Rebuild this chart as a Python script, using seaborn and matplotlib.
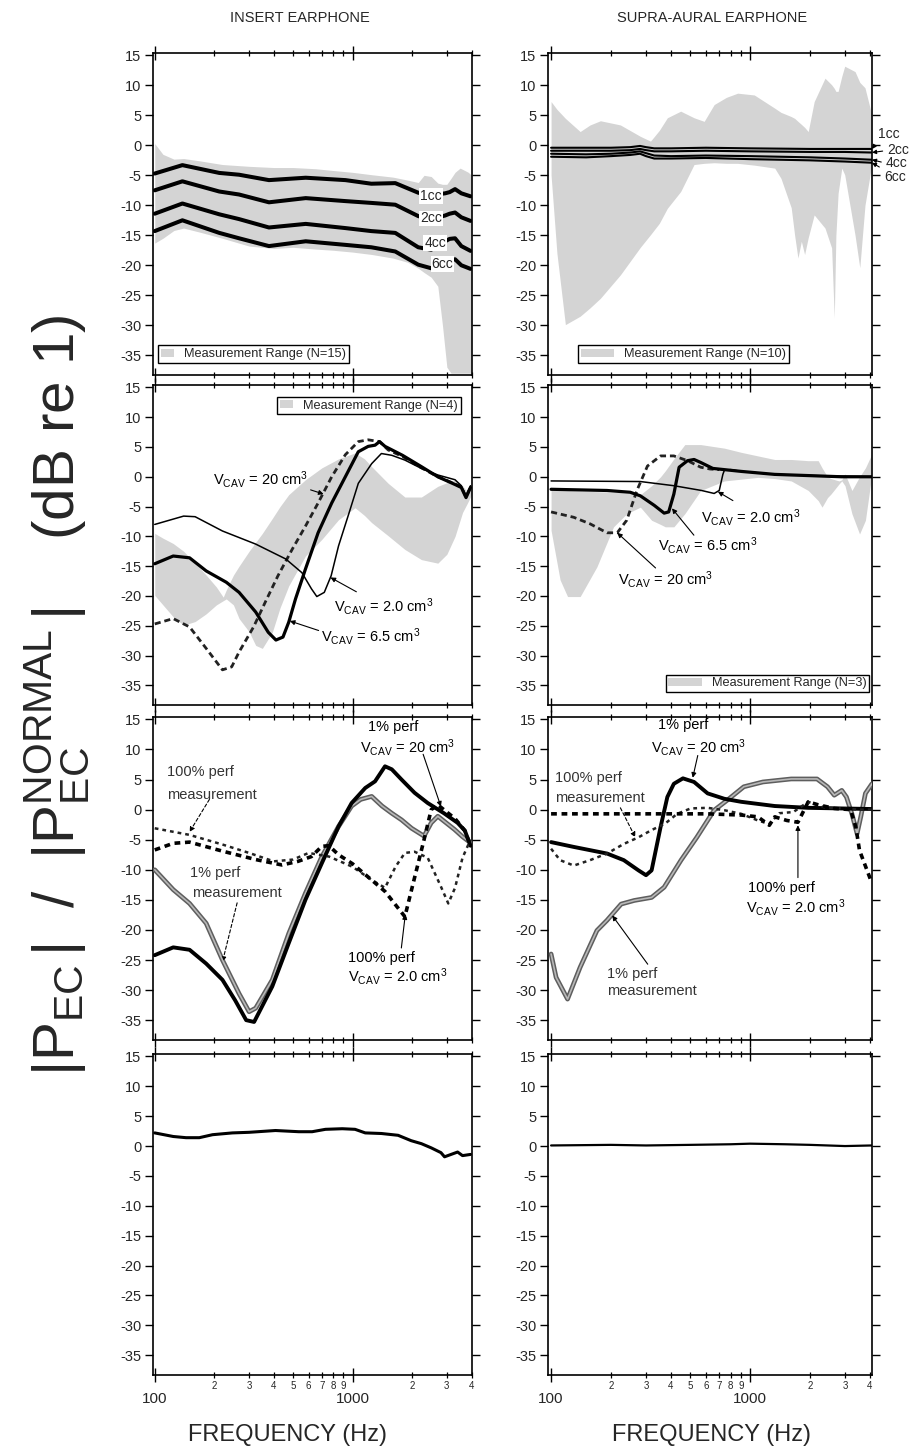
import matplotlib
matplotlib.use("Agg")
import matplotlib.pyplot as plt
from matplotlib import font_manager
from matplotlib.patches import Patch
from matplotlib.ticker import FixedLocator, FixedFormatter, NullFormatter
import seaborn as sns

# ---------------------------------------------------------------- data
# Row 1, insert earphone: coupler-volume curves
ins_cc_f = [100, 138, 212, 267, 378, 580, 922, 1245, 1645, 2150, 2500, 2940, 3100, 3300, 3550, 3950]
ins_1cc = [-4.7, -3.3, -4.6, -4.9, -5.8, -5.4, -5.8, -6.4, -6.3, -7.9, -8.3, -8.0, -7.8, -7.3, -8.0, -8.5]
ins_2cc = [-7.5, -6.0, -7.7, -8.2, -9.5, -8.8, -9.3, -9.6, -9.9, -11.8, -12.3, -11.7, -11.4, -11.2, -12.0, -12.6]
ins_4cc = [-11.4, -9.7, -11.5, -12.3, -13.7, -13.1, -13.8, -14.3, -14.6, -17.0, -17.4, -16.0, -15.6, -15.5, -16.8, -17.6]
ins_6cc = [-14.3, -12.5, -14.6, -15.5, -16.8, -16.0, -16.6, -17.0, -17.7, -19.9, -20.5, -19.5, -19.2, -19.0, -20.0, -20.6]
ins_range15_f = [100, 110, 125, 140, 170, 220, 300, 400, 500, 650, 800, 1000, 1250, 1600, 1900,
                 2150, 2300, 2500, 2700, 2850, 3000, 3150, 3300, 3500, 3700, 3850, 4000]
ins_range15_hi = [0.3, -1.5, -2.3, -2.2, -2.6, -3.2, -3.5, -3.7, -3.7, -3.9, -4.2, -4.5, -4.9, -5.3, -5.8,
                  -6.2, -5.0, -5.2, -6.3, -6.5, -6.5, -5.5, -4.5, -3.8, -4.2, -4.5, -5.0]
ins_range15_lo = [-16.3, -15.5, -14.2, -13.8, -14.5, -15.5, -16.8, -17.2, -17.0, -17.3, -17.5, -17.8, -18.2, -18.8, -19.5,
                  -20.5, -21.2, -22.0, -23.5, -30.0, -37.0, -38.0, -38.0, -38.0, -38.0, -38.0, -38.0]

# Row 1, supra-aural earphone
sup_cc_f = [100, 150, 200, 250, 280, 300, 330, 400, 600, 1000, 2000, 3000, 4100]
sup_1cc = [-0.4, -0.4, -0.4, -0.3, -0.1, -0.3, -0.5, -0.5, -0.4, -0.5, -0.6, -0.6, -0.6]
sup_2cc = [-0.9, -0.9, -0.9, -0.8, -0.6, -0.8, -1.0, -1.0, -0.9, -1.0, -1.1, -1.1, -1.2]
sup_4cc = [-1.4, -1.5, -1.4, -1.2, -1.0, -1.3, -1.7, -1.8, -1.7, -1.8, -2.0, -2.2, -2.4]
sup_6cc = [-1.9, -2.0, -1.8, -1.6, -1.4, -1.8, -2.2, -2.2, -2.1, -2.3, -2.5, -2.7, -2.9]
sup_range10_f = [100, 107, 118, 140, 157, 177, 223, 281, 316, 350, 384, 448, 523, 588, 660, 760, 866, 1050, 1330, 1430,
                 1610, 1675, 1740, 1810, 1880, 1960, 2100, 2380, 2570, 2650, 2700, 2770, 2890, 2990, 3370, 3560, 3780, 4010, 4100]
sup_range10_hi = [7.3, 6.0, 4.5, 2.3, 3.4, 4.1, 3.4, 1.5, 0.7, 2.5, 4.6, 5.7, 4.6, 4.0, 6.8, 8.0, 8.7, 8.4, 6.2, 5.5,
                  4.8, 4.5, 4.0, 3.5, 3.0, 2.3, 7.3, 11.2, 10.1, 9.5, 9.0, 9.0, 11.5, 13.2, 12.3, 10.5, 9.6, 6.2, 5.0]
sup_range10_lo = [-5.0, -18.0, -29.9, -28.5, -27.1, -25.5, -21.6, -17.0, -14.9, -13.0, -10.5, -7.7, -3.2, -3.0, -2.9, -3.0, -3.0, -3.3, -3.8, -5.5,
                  -10.4, -15.0, -18.8, -16.0, -18.2, -15.4, -11.6, -13.8, -17.1, -28.8, -15.0, -8.0, -3.8, -4.9, -15.0, -20.4, -10.0, -4.9, -3.0]

# Row 2, insert earphone: cavity volumes
ins_v65_f = [100, 124, 150, 182, 230, 267, 324, 375, 410, 445, 476, 515, 578, 670, 785, 920, 1070, 1200, 1300, 1370,
             1460, 1790, 2230, 2700, 3300, 3550, 3750, 3950]
ins_v65_db = [-14.6, -13.3, -13.6, -15.8, -17.7, -19.4, -22.7, -26.1, -27.4, -26.9, -24.4, -20.5, -15.5, -9.4, -4.4, 0.0, 4.2, 5.1, 5.3, 5.9,
              5.1, 3.6, 1.7, 0.0, -1.3, -1.8, -3.5, -1.8]
ins_v20_f = [100, 140, 160, 220, 324, 460, 555, 620, 660, 720, 780, 850, 960, 1070, 1250, 1400, 1580, 1840, 2230, 2700,
             3300, 3550, 3750, 3950]
ins_v20_db = [-8.0, -6.6, -6.7, -9.1, -11.3, -13.8, -16.1, -18.8, -20.1, -19.4, -16.6, -11.6, -6.1, -1.1, 2.2, 3.9, 3.6, 2.8, 1.4, 0.3,
              -0.5, -1.5, -3.3, -1.5]
ins_v200_f = [100, 124, 150, 182, 220, 245, 267, 316, 365, 420, 495, 578, 670, 785, 920, 1070, 1200, 1370, 1515, 1790,
              2230, 2700, 3300, 3550, 3750, 3950]
ins_v200_db = [-24.7, -23.8, -25.2, -28.8, -32.4, -31.9, -29.4, -25.2, -20.8, -16.6, -12.2, -8.3, -4.4, 0.0, 3.7, 5.9, 6.2, 5.9, 4.5, 3.4,
               1.5, 0.0, -1.2, -1.7, -3.4, -1.7]
ins_range4_f = [100, 110, 124, 140, 160, 182, 205, 222, 230, 250, 267, 300, 324, 350, 393, 430, 476, 578, 700, 850, 1030,
                1150, 1250, 1515, 1840, 2230, 2700, 3000, 3300, 3600, 3800, 4000]
ins_range4_hi = [-9.5, -10.3, -11.2, -12.5, -14.5, -16.5, -18.5, -20.2, -19.0, -16.5, -15.0, -12.5, -11.0, -9.5, -7.0, -5.0, -3.0, -0.5, 1.5, 3.0, 4.0,
                 3.0, 1.7, -1.1, -3.4, -3.4, -1.6, -1.0, -0.5, -1.5, -2.5, -1.5]
ins_range4_lo = [-19.9, -21.5, -23.5, -24.9, -24.3, -23.0, -21.5, -20.8, -20.5, -21.5, -23.8, -26.0, -28.3, -28.8, -26.1, -22.0, -18.3, -13.3, -10.5, -7.2, -5.2,
                 -6.5, -7.7, -9.9, -12.2, -13.9, -14.5, -13.0, -10.0, -6.0, -4.5, -3.0]

# Row 2, supra-aural earphone: cavity volumes
sup_v20_f = [100, 281, 414, 570, 660, 700, 730, 743, 800, 903, 1330, 2000, 4100]
sup_v20_db = [-0.7, -0.8, -1.5, -2.3, -2.8, -2.3, 0.4, 1.1, 1.2, 0.9, 0.4, 0.2, 0.0]
sup_v65_f = [100, 191, 250, 281, 330, 370, 390, 414, 440, 485, 523, 565, 650, 903, 1330, 1960, 2890, 4100]
sup_v65_db = [-2.1, -2.3, -2.6, -3.2, -4.8, -6.1, -5.9, -2.9, 1.6, 2.7, 2.9, 2.4, 1.4, 0.9, 0.4, 0.2, 0.0, 0.0]
sup_v200_f = [100, 130, 157, 191, 215, 240, 270, 305, 355, 414, 485, 565, 630, 700]
sup_v200_db = [-5.9, -6.8, -7.9, -9.4, -9.4, -7.3, -2.3, 1.8, 3.5, 3.5, 2.7, 1.6, 1.3, 1.2]
sup_range3_f = [100, 111, 121, 140, 170, 206, 240, 281, 320, 355, 375, 414, 470, 565, 743, 903, 1095, 1330, 1610, 1960,
                2200, 2300, 2450, 2550, 2800, 2890, 3000, 3250, 3550, 3800, 4050, 4100]
sup_range3_hi = [-2.0, -2.2, -2.3, -2.4, -2.5, -2.6, -2.7, -3.0, -1.5, 0.0, 1.0, 3.0, 5.4, 5.4, 4.8, 4.1, 3.5, 2.9, 2.9, 2.7,
                 2.7, 1.5, 0.0, -0.3, -0.7, -0.5, 0.5, -2.3, 0.0, 1.5, 3.5, 5.0]
sup_range3_lo = [-9.0, -17.3, -20.1, -20.1, -15.1, -8.4, -6.2, -5.1, -7.3, -8.0, -8.4, -8.4, -6.2, -2.3, -0.7, -0.4, -0.1, -0.3, -0.7, -2.3,
                 -4.0, -5.1, -3.5, -2.9, -1.2, -0.7, -1.5, -6.2, -9.6, -7.3, -0.7, 2.0]

# Row 3, insert earphone: perforations
ins_p1_model_f = [100, 124, 150, 182, 220, 255, 290, 318, 393, 476, 578, 700, 850, 990, 1160, 1300, 1460, 1580, 1770, 2060,
                  2400, 2900, 3400, 3700, 3950]
ins_p1_model_db = [-24.2, -22.9, -23.3, -25.6, -28.3, -31.7, -35.0, -35.3, -29.4, -22.2, -15.0, -8.9, -2.8, 1.1, 3.6, 4.7, 7.2, 6.7, 5.0, 2.8,
                   1.1, -0.6, -2.2, -3.5, -6.0]
ins_p1_meas_f = [100, 124, 150, 182, 220, 267, 300, 324, 393, 476, 578, 700, 850, 990, 1100, 1250, 1410, 1580, 1770, 1990,
                 2300, 2500, 2700, 3280, 3600, 3950]
ins_p1_meas_db = [-10.0, -13.3, -15.6, -18.9, -25.0, -30.6, -33.6, -33.0, -28.3, -20.6, -13.9, -7.8, -2.8, 0.6, 1.7, 2.2, 0.6, -0.6, -1.7, -3.1,
                  -4.4, -2.2, -1.1, -3.3, -4.5, -5.5]
ins_p100_model_f = [100, 124, 150, 220, 324, 440, 530, 620, 700, 760, 850, 1000, 1250, 1460, 1840, 2000, 2300, 2500, 2700, 3300,
                    3700, 3950]
ins_p100_model_db = [-6.7, -5.6, -5.4, -6.9, -8.3, -9.2, -8.6, -7.8, -6.1, -6.0, -7.5, -9.0, -11.7, -13.6, -17.8, -13.0, -5.0, 0.0, 0.8, -1.5,
                     -3.5, -6.0]
ins_p100_meas_f = [100, 150, 220, 300, 400, 500, 600, 760, 1000, 1250, 1460, 1650, 1840, 2060, 2400, 2800, 3050, 3300, 3600, 3950]
ins_p100_meas_db = [-3.1, -4.2, -5.8, -7.2, -8.6, -8.3, -7.2, -7.8, -9.5, -11.7, -13.0, -9.5, -7.2, -7.0, -8.0, -12.8, -15.6, -13.0, -8.0, -5.0]

# Row 3, supra-aural earphone: perforations
sup_p1_model_f = [100, 130, 191, 232, 275, 300, 320, 355, 384, 414, 460, 523, 612, 743, 903, 1330, 1960, 4100]
sup_p1_model_db = [-5.4, -6.2, -7.3, -8.4, -10.1, -10.9, -10.1, -2.9, 2.1, 4.3, 5.2, 4.6, 2.7, 1.8, 1.3, 0.6, 0.3, 0.1]
sup_p1_meas_f = [100, 106, 121, 140, 170, 191, 225, 262, 320, 370, 450, 540, 660, 770, 930, 1160, 1610, 2170, 2450, 2650,
                 2890, 3050, 3250, 3450, 3600, 3800, 4100]
sup_p1_meas_db = [-24.0, -27.9, -31.5, -26.2, -20.1, -18.4, -15.7, -15.1, -14.6, -12.9, -8.4, -4.6, -0.1, 1.6, 3.8, 4.6, 5.1, 5.1, 3.8, 2.4,
                  3.2, 2.1, -0.7, -4.0, -1.2, 2.7, 4.3]
sup_p100_model_f = [100, 612, 903, 1095, 1250, 1330, 1530, 1740, 1960, 2200, 2650, 3200, 3400, 3550, 4050]
sup_p100_model_db = [-0.7, -0.7, -0.9, -1.2, -2.6, -1.2, -1.8, -2.1, 1.3, 0.8, 0.2, 0.0, -2.9, -6.8, -11.8]
sup_p100_meas_f = [100, 111, 130, 157, 191, 232, 275, 320, 375, 430, 503, 612, 743, 903, 1095, 1250, 1400, 1650, 1960, 2400,
                   2890, 3550, 4100]
sup_p100_meas_db = [-6.5, -8.4, -9.3, -8.4, -7.3, -5.7, -4.6, -3.4, -2.3, -0.7, 0.2, 0.3, -0.1, -0.7, -1.8, -2.4, -0.6, -0.4, 1.3, 0.3,
                    0.2, 0.0, 0.0]

# Row 4: normal ear, test-retest
ins_norm_f = [100, 124, 144, 168, 196, 247, 300, 408, 535, 625, 730, 888, 1030, 1160, 1400, 1700, 1980, 2230, 2500, 2800,
              2920, 3150, 3400, 3600, 3950]
ins_norm_db = [2.2, 1.6, 1.4, 1.4, 1.9, 2.2, 2.3, 2.6, 2.4, 2.4, 2.8, 2.9, 2.8, 2.2, 2.1, 1.8, 0.9, 0.4, -0.3, -1.1,
               -1.8, -1.4, -1.0, -1.6, -1.4]
sup_norm_f = [100, 200, 300, 500, 800, 1000, 1500, 2000, 3000, 4100]
sup_norm_db = [0.1, 0.2, 0.1, 0.2, 0.3, 0.4, 0.3, 0.2, 0.0, 0.1]

# Axis ticks
y_ticks = [15, 10, 5, 0, -5, -10, -15, -20, -25, -30, -35]
x_major = [100, 1000]
x_major_labels = ["100", "1000"]
x_minor = [200, 300, 400, 500, 600, 700, 800, 900, 2000, 3000, 4000]
x_minor_labels = ["2", "3", "4", "5", "6", "7", "8", "9", "2", "3", "4"]
column_titles = ["INSERT EARPHONE", "SUPRA-AURAL EARPHONE"]

# ---------------------------------------------------------------- style
sns.set_style("ticks")
installed = {f.name for f in font_manager.fontManager.ttflist}
base = "Liberation Sans" if "Liberation Sans" in installed else "DejaVu Sans"
plt.rcParams["font.family"] = [base, "DejaVu Sans"]
plt.rcParams["axes.unicode_minus"] = False
plt.rcParams["mathtext.fontset"] = "custom"
plt.rcParams["mathtext.rm"] = base
plt.rcParams["mathtext.it"] = base + ":italic"
plt.rcParams["mathtext.bf"] = base + ":bold"
plt.rcParams["mathtext.default"] = "regular"

FILL = "#d4d4d4"
W, H = 911, 1454
fig = plt.figure(figsize=(W / 100, H / 100), dpi=100)
fig.patch.set_facecolor("white")

col_px = [(153, 472), (548, 872)]
row_px = [(53, 375), (385, 705), (717, 1040), (1054, 1375)]
xlims = [(98, 4020), (96.5, 4100)]
axes = [[fig.add_axes([x0 / W, 1 - y1 / H, (x1 - x0) / W, (y1 - y0) / H]) for (x0, x1) in col_px]
        for (y0, y1) in row_px]


def line(ax, f, db, **kw):
    sns.lineplot(x=f, y=db, ax=ax, estimator=None, sort=False, legend=False, **kw)


def gray_meas(ax, f, db):
    line(ax, f, db, color="#5e5e5e", linewidth=3.4, zorder=3)
    line(ax, f, db, color="#b8b8b8", linewidth=1.2, zorder=3.1)


def arrow(ax, start, tip, dashed=False):
    ax.annotate("", xy=tip, xytext=start, xycoords="data", textcoords="data",
                annotation_clip=False,
                arrowprops=dict(arrowstyle="-|>", color="black", lw=0.8, mutation_scale=7,
                                shrinkA=0, shrinkB=0, linestyle=(0, (3, 2)) if dashed else "-"))


def label(ax, x, y, s, color="black", size=10.5):
    ax.text(x, y, s, ha="left", va="center", fontsize=size, color=color, zorder=6)


def range_legend(ax, text, loc, anchor, hl):
    h = Patch(facecolor=FILL, edgecolor="none", label=text)
    leg = ax.legend(handles=[h], loc=loc, bbox_to_anchor=anchor, frameon=True, fancybox=False,
                    edgecolor="black", fontsize=9.2, handlelength=hl, handleheight=0.55,
                    borderpad=0.22, handletextpad=0.8, borderaxespad=0)
    leg.get_frame().set_linewidth(1.0)
    leg.get_frame().set_alpha(1)


# ---------------------------------------------------------------- row 1
ax = axes[0][0]
ax.fill_between(ins_range15_f, ins_range15_lo, ins_range15_hi, color=FILL, linewidth=0, zorder=1)
for vals in (ins_1cc, ins_2cc, ins_4cc, ins_6cc):
    line(ax, ins_cc_f, vals, color="black", linewidth=2.9, zorder=3)
for s, fx, fy in (("1cc", 2492, -8.4), ("2cc", 2492, -12.2), ("4cc", 2618, -16.3), ("6cc", 2843, -19.8)):
    ax.text(fx, fy, s, ha="center", va="center", fontsize=10, zorder=5,
            bbox=dict(facecolor="white", edgecolor="none", pad=0.6))
range_legend(ax, "Measurement Range (N=15)", "lower left", (0.016, 0.037), 1.0)

ax = axes[0][1]
ax.fill_between(sup_range10_f, sup_range10_lo, sup_range10_hi, color=FILL, linewidth=0, zorder=1)
for vals in (sup_1cc, sup_2cc, sup_4cc, sup_6cc):
    line(ax, sup_cc_f, vals, color="black", linewidth=1.5, zorder=3)
for s, vals, off, rel in (("1cc", sup_1cc, (4.5, 11), (0, 0)), ("2cc", sup_2cc, (11, 1.5), (0, 0.5)),
                          ("4cc", sup_4cc, (10, -2.5), (0, 0.5)), ("6cc", sup_6cc, (8.5, -10), (0, 1))):
    ax.annotate(s, xy=(4100, vals[-1]), xytext=off, textcoords="offset points", ha="left", va="center",
                fontsize=10, annotation_clip=False,
                arrowprops=dict(arrowstyle="-|>", color="black", lw=0.8, mutation_scale=6,
                                shrinkA=1, shrinkB=0, relpos=rel))
range_legend(ax, "Measurement Range (N=10)", "lower left", (0.093, 0.037), 2.6)

# ---------------------------------------------------------------- row 2
ax = axes[1][0]
ax.fill_between(ins_range4_f, ins_range4_lo, ins_range4_hi, color=FILL, linewidth=0, zorder=1)
line(ax, ins_v200_f, ins_v200_db, color="#222222", linewidth=2.0, linestyle=(0, (2.2, 1.4)), zorder=3)
line(ax, ins_v20_f, ins_v20_db, color="black", linewidth=1.1, zorder=3)
line(ax, ins_v65_f, ins_v65_db, color="black", linewidth=2.3, zorder=3)
label(ax, 196, -0.5, r"V$_{CAV}$ = 20 cm$^{3}$")
arrow(ax, (614, -2.2), (714, -2.9))
label(ax, 802, -21.7, r"V$_{CAV}$ = 2.0 cm$^{3}$")
arrow(ax, (1046, -19.3), (774, -16.9))
label(ax, 690, -26.8, r"V$_{CAV}$ = 6.5 cm$^{3}$")
arrow(ax, (674, -25.8), (482, -24.2))
range_legend(ax, "Measurement Range (N=4)", "upper right", (0.964, 0.963), 1.0)

ax = axes[1][1]
ax.fill_between(sup_range3_f, sup_range3_lo, sup_range3_hi, color=FILL, linewidth=0, zorder=1)
line(ax, sup_v200_f, sup_v200_db, color="#222222", linewidth=2.0, linestyle=(0, (2.2, 1.4)), zorder=3)
line(ax, sup_v20_f, sup_v20_db, color="black", linewidth=1.1, zorder=3)
line(ax, sup_v65_f, sup_v65_db, color="black", linewidth=2.3, zorder=3)
label(ax, 566, -6.8, r"V$_{CAV}$ = 2.0 cm$^{3}$")
arrow(ax, (820, -4.0), (689, -2.5))
label(ax, 346, -11.5, r"V$_{CAV}$ = 6.5 cm$^{3}$")
arrow(ax, (522, -9.8), (405, -5.3))
label(ax, 218, -17.3, r"V$_{CAV}$ = 20 cm$^{3}$")
arrow(ax, (335, -15.3), (215, -9.4))
range_legend(ax, "Measurement Range (N=3)", "lower right", (0.992, 0.04), 2.6)

# ---------------------------------------------------------------- row 3
ax = axes[2][0]
gray_meas(ax, ins_p1_meas_f, ins_p1_meas_db)
line(ax, ins_p1_model_f, ins_p1_model_db, color="black", linewidth=2.8, zorder=4)
line(ax, ins_p100_meas_f, ins_p100_meas_db, color="#222222", linewidth=1.8, linestyle=(0, (1.5, 1.6)), zorder=4)
line(ax, ins_p100_model_f, ins_p100_model_db, color="black", linewidth=2.6, linestyle=(0, (1.6, 1.3)), zorder=4)
label(ax, 1204, 13.7, "1% perf")
label(ax, 1097, 10.3, r"V$_{CAV}$ = 20 cm$^{3}$")
arrow(ax, (2276, 9.2), (2800, 0.5))
label(ax, 115, 6.3, "100% perf", color="#333333")
label(ax, 115, 2.5, "measurement", color="#333333")
arrow(ax, (189, 1.7), (150, -3.7), dashed=True)
label(ax, 150, -10.5, "1% perf", color="#333333")
label(ax, 155, -13.8, "measurement", color="#333333")
arrow(ax, (261, -15.5), (220, -25.3), dashed=True)
label(ax, 954, -24.7, "100% perf")
label(ax, 954, -27.8, r"V$_{CAV}$ = 2.0 cm$^{3}$")
arrow(ax, (1766, -23.0), (1850, -17.4))

ax = axes[2][1]
gray_meas(ax, sup_p1_meas_f, sup_p1_meas_db)
line(ax, sup_p1_model_f, sup_p1_model_db, color="black", linewidth=2.8, zorder=4)
line(ax, sup_p100_meas_f, sup_p100_meas_db, color="#222222", linewidth=1.8, linestyle=(0, (1.5, 1.6)), zorder=4)
line(ax, sup_p100_model_f, sup_p100_model_db, color="black", linewidth=2.6, linestyle=(0, (1.6, 1.3)), zorder=4)
label(ax, 343, 14.0, "1% perf")
label(ax, 316, 10.3, r"V$_{CAV}$ = 20 cm$^{3}$")
arrow(ax, (546, 9.0), (515, 5.3))
label(ax, 105, 5.2, "100% perf", color="#333333")
label(ax, 105, 2.0, "measurement", color="#333333")
arrow(ax, (223, 0.3), (265, -4.6), dashed=True)
label(ax, 978, -13.0, "100% perf")
label(ax, 955, -16.3, r"V$_{CAV}$ = 2.0 cm$^{3}$")
arrow(ax, (1740, -11.3), (1740, -2.6))
label(ax, 192, -27.3, "1% perf", color="#333333")
label(ax, 192, -30.2, "measurement", color="#333333")
arrow(ax, (306, -25.7), (203, -17.6))

# ---------------------------------------------------------------- row 4
line(axes[3][0], ins_norm_f, ins_norm_db, color="black", linewidth=2.2, zorder=3)
line(axes[3][1], sup_norm_f, sup_norm_db, color="black", linewidth=1.6, zorder=3)

# ---------------------------------------------------------------- axes
for r, row in enumerate(axes):
    for c, ax in enumerate(row):
        ax.set_xscale("log")
        ax.set_xlim(*xlims[c])
        ax.set_ylim(-38.3, 15.4)
        ax.set_xlabel("")
        ax.set_ylabel("")
        ax.set_facecolor("none")
        for sp in ax.spines.values():
            sp.set_visible(True)
            sp.set_color("black")
            sp.set_linewidth(1.2)
        ax.xaxis.set_major_locator(FixedLocator(x_major))
        ax.xaxis.set_minor_locator(FixedLocator(x_minor))
        ax.yaxis.set_major_locator(FixedLocator(y_ticks))
        ax.yaxis.set_major_formatter(FixedFormatter([str(v) for v in y_ticks]))
        ax.yaxis.set_minor_locator(FixedLocator([]))
        ax.tick_params(axis="x", which="major", direction="inout", length=10, width=1.0,
                       top=True, bottom=True, color="black")
        ax.tick_params(axis="x", which="minor", direction="inout", length=5, width=0.9,
                       top=True, bottom=True, color="black")
        ax.tick_params(axis="y", which="major", direction="out", length=6, width=1.0,
                       left=True, right=True, labelsize=10.5, pad=2.5, color="black")
        if r == len(axes) - 1:
            ax.xaxis.set_major_formatter(FixedFormatter(x_major_labels))
            ax.xaxis.set_minor_formatter(FixedFormatter(x_minor_labels))
            ax.tick_params(axis="x", which="major", labelsize=11, pad=7)
            ax.tick_params(axis="x", which="minor", labelsize=7, pad=1.5)
        else:
            ax.xaxis.set_major_formatter(NullFormatter())
            ax.xaxis.set_minor_formatter(NullFormatter())

# ---------------------------------------------------------------- figure text
fig.text(300 / W, 1 - 18 / H, column_titles[0], ha="center", va="center", fontsize=10.5)
fig.text(712 / W, 1 - 18 / H, column_titles[1], ha="center", va="center", fontsize=10.5)
fig.text(287 / W, 1 - 1435 / H, "FREQUENCY (Hz)", ha="center", va="center", fontsize=17)
fig.text(711 / W, 1 - 1435 / H, "FREQUENCY (Hz)", ha="center", va="center", fontsize=17)
fig.text(57 / W, 1 - 695 / H, r"$|P_{EC}\,|\ \ /\ \ |P_{EC}^{NORMAL}\,|$    (dB re 1)",
         rotation=90, ha="center", va="center", fontsize=42)

fig.savefig("out.png", dpi=100, facecolor="white")
